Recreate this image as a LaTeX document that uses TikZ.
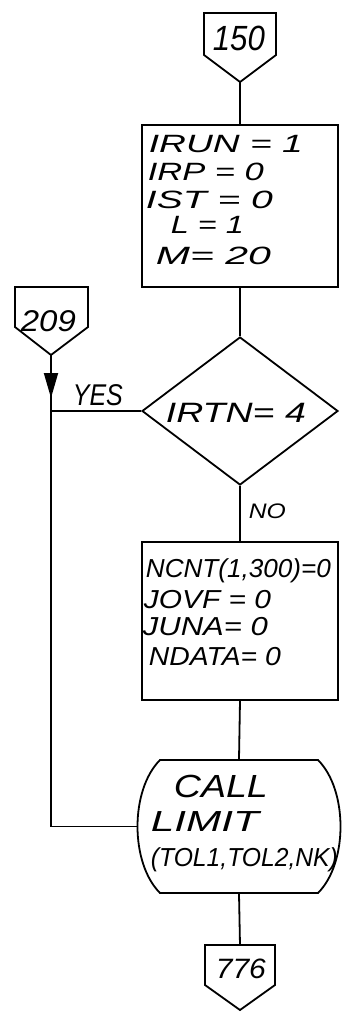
\documentclass[tikz,border=0pt]{standalone}
\usepackage{fontspec}
\usepackage{graphicx}
\setmainfont{Liberation Sans}
\usetikzlibrary{shapes.geometric,arrows.meta}
\newcommand\hw[3]{{\fontsize{#1pt}{#1pt}\selectfont\itshape\resizebox{#2pt}{\height}{#3}}}
\begin{document}
\begin{tikzpicture}[x=1pt,y=-1pt,line width=1.8pt,
  txt/.style={inner sep=0pt,anchor=base west},
  proc/.style={draw,rectangle,minimum width=196pt,inner sep=0pt},
  dec/.style={draw,diamond,minimum width=196pt,minimum height=148pt,inner sep=0pt},
  callbox/.style={rectangle,minimum width=202pt,minimum height=133pt,inner sep=0pt},
  flowarrow/.style={-{Triangle[length=25pt,width=14pt]}}]
\useasboundingbox (0,0) rectangle (342,1012);
% off-page connector 150
\draw (204,13) -- (276,13) -- (276,55) -- (240,82) -- (204,55) -- cycle;
\coordinate (c150) at (240,82);
\node[txt] (t150) at (212,50) {\hw{35}{52}{150}};
% first process box
\node[proc,minimum height=162pt] (b1) at (240,206) {};
\node[txt] (l11) at (148,152) {\hw{25}{154}{IRUN = 1}};
\node[txt] (l12) at (147,180) {\hw{25}{116}{IRP = 0}};
\node[txt] (l13) at (145,208) {\hw{25}{127}{IST = 0}};
\node[txt] (l14) at (170,233) {\hw{25}{73}{L = 1}};
\node[txt] (l15) at (155,264) {\hw{25}{115}{M= 20}};
% decision
\node[dec] (d) at (240,411) {};
\node[txt] (td) at (165,422) {\hw{28}{140}{IRTN= 4}};
\node[txt] (no) at (248,518) {\hw{21}{37}{NO}};
\node[txt] (yes) at (72,405) {\hw{30}{50}{YES}};
% second process box
\node[proc,minimum height=158pt] (b2) at (240,621) {};
\node[txt] (l21) at (145,577) {\hw{26}{185}{NCNT(1,300)=0}};
\node[txt] (l22) at (143,608) {\hw{26}{127}{JOVF = 0}};
\node[txt] (l23) at (142,635) {\hw{26}{125}{JUNA= 0}};
\node[txt] (l24) at (148,665) {\hw{26}{132}{NDATA= 0}};
% call box (flat top and bottom, bulging sides)
\node[callbox] (c) at (239,826.5) {};
\draw (160,760) -- (318,760) .. controls (348,790) and (348,863) .. (318,893)
      -- (160,893) .. controls (130,863) and (130,790) .. cycle;
\node[txt] (l31) at (173,797) {\hw{32}{94}{CALL}};
\node[txt] (l32) at (150,831) {\hw{29}{108}{LIMIT}};
\node[txt] (l33) at (150,866) {\hw{26}{187}{(TOL1,TOL2,NK)}};
% off-page connector 776
\draw (205,945) -- (275,945) -- (275,985) -- (240,1010) -- (205,985) -- cycle;
\coordinate (c776) at (240,945);
\node[txt] (t776) at (215,978) {\hw{28}{50}{776}};
% off-page connector 209
\draw (15,287) -- (88,287) -- (88,327) -- (51,355) -- (15,327) -- cycle;
\coordinate (c209) at (51,355);
\node[txt] (t209) at (20,331) {\hw{30}{55}{209}};
% connectors
\coordinate (j) at (d.west -| c209);
\coordinate (k) at (c209 |- c.west);
\coordinate (a) at (51,398);
\draw (c150) -- (b1.north);
\draw (b1.south) -- (d.north);
\draw (d.south) -- (b2.north);
\draw (b2.south) -- (c.north);
\draw (c.south) -- (c776);
\draw (d.west) -- (j);
\draw (c209) -- (j) -- (k) -- (c.west);
\draw[flowarrow] (c209) -- (a);
\end{tikzpicture}
\end{document}
